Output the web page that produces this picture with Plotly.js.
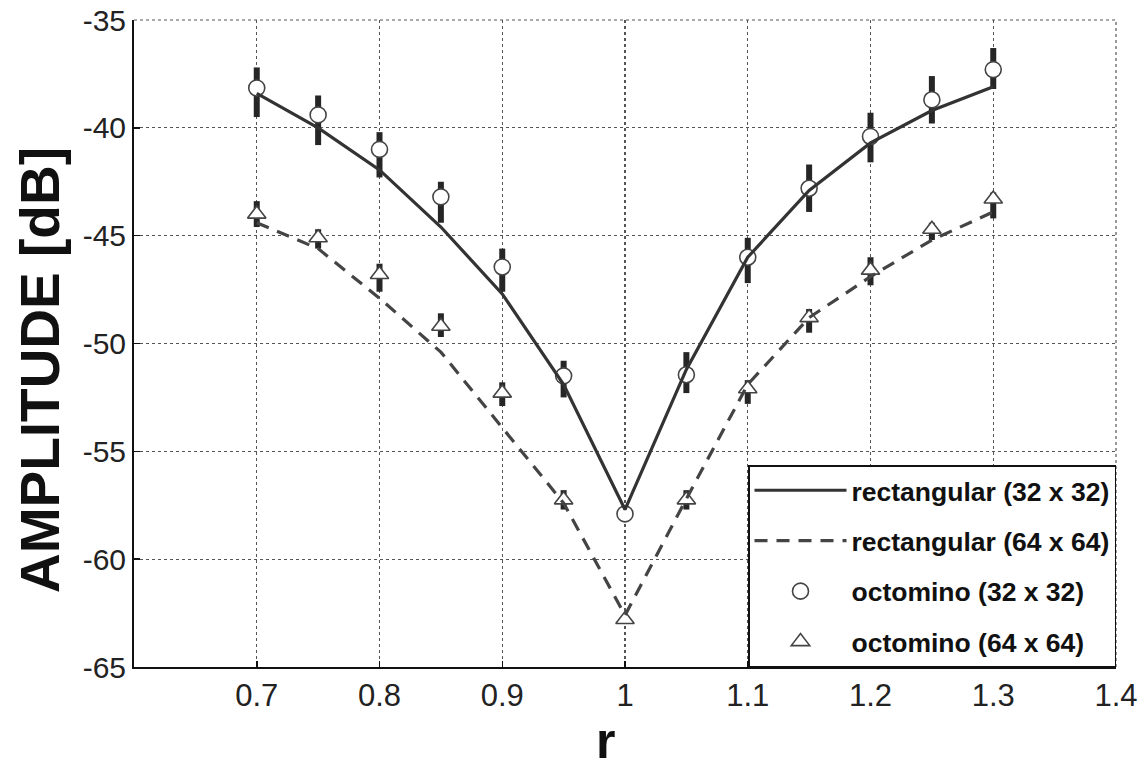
<!DOCTYPE html>
<html>
<head>
<meta charset="utf-8">
<script src="https://cdn.plot.ly/plotly-3.0.1.min.js"></script>
<style>html,body{margin:0;padding:0;background:#fff;}#chart{width:1146px;height:773px;}</style>
</head>
<body>
<div id="chart"></div>
<script>
// ---- data ----
const r = [0.70, 0.75, 0.80, 0.85, 0.90, 0.95, 1.00, 1.05, 1.10, 1.15, 1.20, 1.25, 1.30];

// fitted curves
const rect32 = [-38.4, -40.0, -41.95, -44.6, -47.7, -51.9, -57.7, -51.2, -46.0, -42.9, -40.7, -39.2, -38.1];
const rect64 = [-44.4, -45.6, -47.9, -50.4, -53.9, -57.4, -62.6, -57.2, -51.9, -48.8, -46.9, -45.2, -43.9];

// octomino points and spread of individual runs
const octo32      = [-38.15, -39.4, -41.0, -43.2, -46.45, -51.5, -57.9, -51.45, -46.0, -42.8, -40.4, -38.7, -37.3];
const octo32Top   = [-37.2, -38.5, -40.2, -42.5, -45.6, -50.8, -57.7, -50.4, -45.1, -41.7, -39.3, -37.6, -36.3];
const octo32Bot   = [-39.5, -40.8, -42.3, -44.4, -47.6, -52.5, -58.1, -52.3, -47.2, -43.9, -41.6, -39.8, -38.2];

const octo64      = [-44.0, -45.1, -46.8, -49.2, -52.3, -57.25, -62.8, -57.25, -52.1, -48.8, -46.6, -44.7, -43.3];
const octo64Top   = [-43.4, -44.7, -46.3, -48.6, -51.8, -56.8, -62.6, -56.8, -51.7, -48.4, -46.0, -44.4, -43.0];
const octo64Bot   = [-44.6, -45.6, -47.6, -49.7, -52.9, -57.7, -63.0, -57.7, -52.8, -49.5, -47.3, -45.2, -44.2];

const names = ['rectangular (32 x 32)', 'rectangular (64 x 64)', 'octomino (32 x 32)', 'octomino (64 x 64)'];

const xTickVals = [0.7, 0.8, 0.9, 1.0, 1.1, 1.2, 1.3, 1.4];
const xTickText = ['0.7', '0.8', '0.9', '1', '1.1', '1.2', '1.3', '1.4'];
const yTickVals = [-65, -60, -55, -50, -45, -40, -35];
const yTickText = ['-65', '-60', '-55', '-50', '-45', '-40', '-35'];

const xTitle = 'r';
const yTitle = 'AMPLITUDE [dB]';

// ---- helpers ----
const up = (v, t) => v.map((d, i) => t[i] - d);
const dn = (v, b) => v.map((d, i) => d - b[i]);

const FONT = 'Arial, "Liberation Sans", Helvetica, sans-serif';
const INK = '#262626';

const traces = [
  {
    x: r, y: octo32, type: 'scatter', mode: 'markers', name: names[2], legendrank: 3, legendgroup: 'c',
    marker: {symbol: 'circle', size: 16, color: '#ffffff', line: {color: '#444', width: 1.6}},
    error_y: {type: 'data', symmetric: false, array: up(octo32, octo32Top), arrayminus: dn(octo32, octo32Bot),
              color: INK, thickness: 6, width: 0}
  },
  {
    x: r, y: octo64, type: 'scatter', mode: 'markers', name: names[3], legendrank: 4, legendgroup: 'd',
    marker: {symbol: 'triangle-up', size: 16, color: '#ffffff', line: {color: '#444', width: 1.6}},
    error_y: {type: 'data', symmetric: false, array: up(octo64, octo64Top), arrayminus: dn(octo64, octo64Bot),
              color: INK, thickness: 6, width: 0}
  },
  {
    x: r, y: rect32, type: 'scatter', mode: 'lines', name: names[0], legendrank: 1, legendgroup: 'a',
    line: {color: '#333', width: 3.2}
  },
  {
    x: r, y: rect64, type: 'scatter', mode: 'lines', name: names[1], legendrank: 2, legendgroup: 'b',
    line: {color: '#444', width: 3.2, dash: '13px,9px'}
  }
];

const dotted = {color: '#555', width: 1.2, dash: 'dot'};

const layout = {
  width: 1146, height: 773,
  margin: {l: 134, r: 30, t: 20, b: 106},
  paper_bgcolor: '#ffffff', plot_bgcolor: '#ffffff',
  font: {family: FONT, color: '#111'},
  showlegend: true,
  legend: {
    x: 1, y: 0, xanchor: 'right', yanchor: 'bottom',
    bgcolor: '#ffffff', bordercolor: '#111', borderwidth: 1.5,
    font: {family: FONT, size: 26.5, color: '#111', weight: 'bold'},
    tracegroupgap: 13, traceorder: 'grouped', itemwidth: 92
  },
  xaxis: {
    range: [0.6, 1.4], tickmode: 'array', tickvals: xTickVals, ticktext: xTickText,
    showline: true, linecolor: '#111', linewidth: 2, mirror: false,
    ticks: 'inside', ticklen: 6, tickcolor: '#111', tickwidth: 1.5,
    showgrid: true, gridcolor: '#555', griddash: 'dot', gridwidth: 1.2,
    zeroline: false,
    tickfont: {family: FONT, size: 31, color: '#222'}
  },
  yaxis: {
    range: [-65, -35], tickmode: 'array', tickvals: yTickVals, ticktext: yTickText,
    showline: true, linecolor: '#111', linewidth: 2, mirror: false,
    ticks: 'inside', ticklen: 6, tickcolor: '#111', tickwidth: 1.5,
    showgrid: true, gridcolor: '#555', griddash: 'dot', gridwidth: 1.2,
    zeroline: false,
    tickfont: {family: FONT, size: 30, color: '#222'}
  },
  shapes: [
    {type: 'line', xref: 'paper', yref: 'paper', x0: 0, x1: 1, y0: 1, y1: 1, line: dotted, layer: 'below'},
    {type: 'line', xref: 'paper', yref: 'paper', x0: 1, x1: 1, y0: 0, y1: 1, line: dotted, layer: 'below'}
  ],
  annotations: [
    {text: yTitle, xref: 'paper', yref: 'paper', x: -0.0957, y: 0.459, xanchor: 'center', yanchor: 'middle',
     textangle: -90, showarrow: false, font: {family: FONT, size: 55, color: '#111', weight: 'bold'}},
    {text: xTitle, xref: 'paper', yref: 'paper', x: 0.48, y: -0.068, xanchor: 'center', yanchor: 'top',
     showarrow: false, font: {family: FONT, size: 50, color: '#111', weight: 'bold'}}
  ]
};

Plotly.newPlot('chart', traces, layout, {displayModeBar: false, staticPlot: true});
</script>
</body>
</html>
